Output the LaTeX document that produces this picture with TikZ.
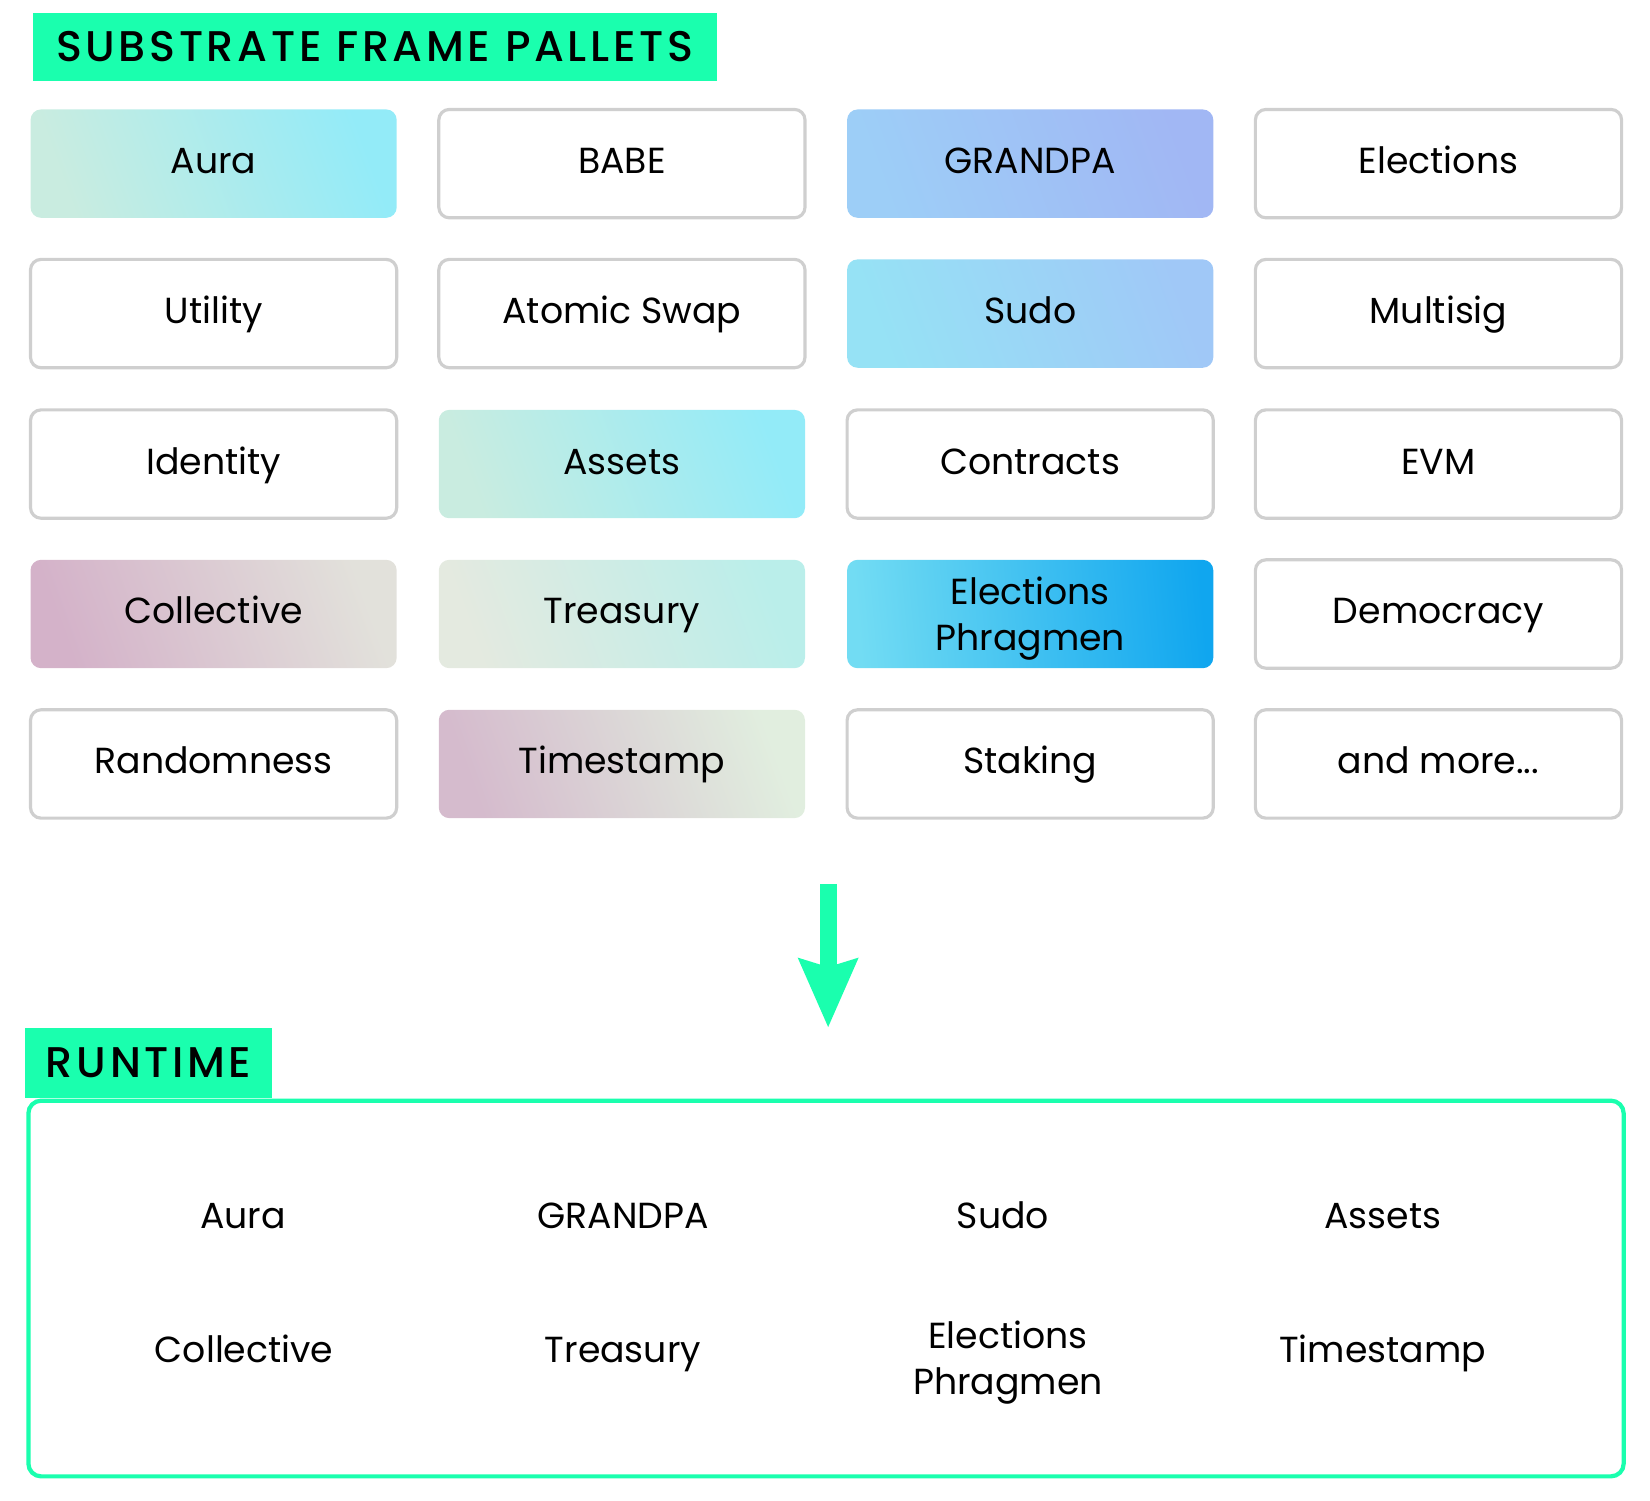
\documentclass[tikz,border=0pt]{standalone}
\usepackage{fontspec}
\setmainfont{Poppins}
\newfontfamily\headfont{Poppins Medium}[LetterSpace=8.5]
\usetikzlibrary{arrows.meta,positioning}

\definecolor{mint}{HTML}{1AFFAE}
\definecolor{boxgray}{HTML}{CFCFCF}
\definecolor{paleteal}{HTML}{C9ECE0}
\definecolor{cyanlight}{HTML}{93EBF8}
\definecolor{skyblue}{HTML}{9DCEF7}
\definecolor{periwinkle}{HTML}{A1B7F4}
\definecolor{sudoleft}{HTML}{96E2F5}
\definecolor{sudoright}{HTML}{A0C8F7}
\definecolor{mauve}{HTML}{D4B2C9}
\definecolor{greige}{HTML}{E2E1DB}
\definecolor{sage}{HTML}{E4EAE0}
\definecolor{aqua}{HTML}{BAEEEA}
\definecolor{phragleft}{HTML}{72DCF3}
\definecolor{phragright}{HTML}{10A6EF}
\definecolor{stampleft}{HTML}{D5BBCD}
\definecolor{stampright}{HTML}{E1EEDF}

\begin{document}
\begin{tikzpicture}[x=0.1mm,y=-0.1mm,
		pallet/.style={rounded corners=1mm, minimum width=34.8mm, minimum height=10.3mm, align=center,
			font=\fontsize{9.8}{12.5}\selectfont, text height=6.9pt, text depth=1.5pt},
		plainbox/.style={pallet, draw=boxgray, line width=0.3mm, fill=white},
		gradbox/.style 2 args={pallet, left color=#1, right color=#2, shading angle=110},
		rtlabel/.style={font=\fontsize{9.8}{12.5}\selectfont, align=center, text height=6.9pt, text depth=1.5pt},
		heading/.style={fill=mint, inner sep=0pt, font=\headfont\fontsize{11.6}{14}\selectfont}]
	\useasboundingbox (0,0) rectangle (1568,1425.5);

	\node[heading, minimum width=65mm, minimum height=6.5mm] (title) at (356,44.5) {SUBSTRATE FRAME PALLETS};

	% pallets
	\node[gradbox={paleteal}{cyanlight}] (aura) at (203,155.5) {Aura};
	\node[plainbox] (babe) at (591,155.5) {BABE};
	\node[gradbox={skyblue}{periwinkle}] (grandpa) at (979,155.5) {GRANDPA};
	\node[plainbox] (elections) at (1367,155.5) {Elections};

	\node[plainbox] (utility) at (203,298) {Utility};
	\node[plainbox] (atomicswap) at (591,298) {Atomic Swap};
	\node[gradbox={sudoleft}{sudoright}] (sudo) at (979,298) {Sudo};
	\node[plainbox] (multisig) at (1367,298) {Multisig};

	\node[plainbox] (identity) at (203,441) {Identity};
	\node[gradbox={paleteal}{cyanlight}] (assets) at (591,441) {Assets};
	\node[plainbox] (contracts) at (979,441) {Contracts};
	\node[plainbox] (evm) at (1367,441) {EVM};

	\node[gradbox={mauve}{greige}] (collective) at (203,583.5) {Collective};
	\node[gradbox={sage}{aqua}] (treasury) at (591,583.5) {Treasury};
	\node[gradbox={phragleft}{phragright}, shading angle=95, inner ysep=0pt, text height=, text depth=] (phragmen) at (979,583.5) {\rule{0pt}{10.1pt}Elections\\Phragmen};
	\node[plainbox] (democracy) at (1367,583.5) {Democracy};

	\node[plainbox] (randomness) at (203,726) {Randomness};
	\node[gradbox={stampleft}{stampright}] (timestamp) at (591,726) {Timestamp};
	\node[plainbox] (staking) at (979,726) {Staking};
	\node[plainbox] (more) at (1367,726) {and more...};

	% arrow down to the runtime
	\coordinate (arrowtop) at (787,840);
	\coordinate (arrowtip) at (787,976);
	\draw[mint, line width=1.6mm, -{Stealth[length=6.6mm, width=5.8mm, inset=0.9mm, line width=0pt]}] (arrowtop) -- (arrowtip);

	% runtime
	\node[draw=mint, line width=0.4mm, rounded corners=1.2mm, minimum width=151.6mm, minimum height=35.7mm] (runtime) at (785,1224.5) {};
	\node[heading, anchor=south west, minimum width=23.5mm, minimum height=6.6mm, text width=19.5mm, align=left] (rttab) at ([xshift=-0.2mm]runtime.north west) {RUNTIME};

	\node[rtlabel] (rtaura) at (231,1158) {Aura};
	\node[rtlabel] (rtgrandpa) at (592,1158) {GRANDPA};
	\node[rtlabel] (rtsudo) at (953,1158) {Sudo};
	\node[rtlabel] (rtassets) at (1314,1158) {Assets};
	\node[rtlabel] (rtcollective) at (232,1285) {Collective};
	\node[rtlabel] (rttreasury) at (592,1285) {Treasury};
	\node[rtlabel, text height=, text depth=] (rtphragmen) at (958,1295) {Elections\\Phragmen};
	\node[rtlabel] (rttimestamp) at (1314,1285) {Timestamp};
\end{tikzpicture}
\end{document}
